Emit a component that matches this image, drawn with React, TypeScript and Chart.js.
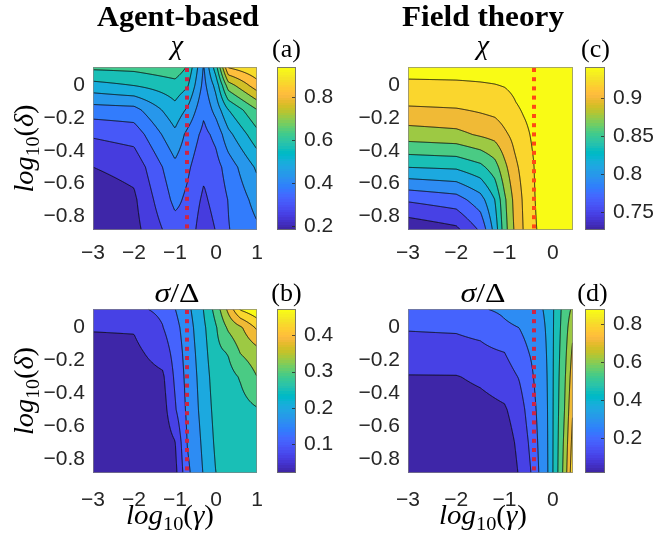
import React, { useEffect, useRef } from 'react';
import { Chart, registerables } from 'chart.js';

Chart.register(...registerables);

// ---------------- data ----------------
const Y_TICKS = [-0.8, -0.6, -0.4, -0.2, 0];
const Y_TICK_LABELS = ['−0.8', '−0.6', '−0.4', '−0.2', '0'];
const X_TICKS_AGENT = [-3, -2, -1, 0, 1];
const X_TICK_LABELS_AGENT = ['−3', '−2', '−1', '0', '1'];
const X_TICKS_FIELD = [-3, -2, -1, 0];
const X_TICK_LABELS_FIELD = ['−3', '−2', '−1', '0'];
const DELTA_MIN = -0.886;
const DELTA_MAX = 0.114;
const GAMMA_MIN = -3;
const GAMMA_MAX_AGENT = 1;
const GAMMA_MAX_FIELD = 0.42;
const CRIT_AGENT = -0.7;
const CRIT_FIELD = -0.38;

// (a) agent-based chi : rows = delta (bottom -> top), columns = gamma
const GAMMA_A = [-3, -2, -1, -0.7, -0.3, 0, 0.3, 1];
const DELTA_A = [-0.886, -0.7, -0.5, -0.3, -0.15, 0, 0.114];
const CHI_A = [
  [0.185, 0.225, 0.345, 0.35, 0.27, 0.312, 0.37, 0.425],
  [0.21, 0.235, 0.39, 0.36, 0.296, 0.335, 0.375, 0.46],
  [0.246, 0.266, 0.42, 0.385, 0.325, 0.35, 0.4, 0.51],
  [0.317, 0.335, 0.485, 0.42, 0.355, 0.39, 0.48, 0.605],
  [0.406, 0.413, 0.54, 0.49, 0.385, 0.46, 0.56, 0.685],
  [0.538, 0.562, 0.6, 0.57, 0.415, 0.52, 0.72, 0.85],
  [0.64, 0.645, 0.67, 0.62, 0.43, 0.6, 0.885, 0.935],
];
const LEVELS_A = [0.246, 0.309, 0.373, 0.436, 0.499, 0.562, 0.625, 0.688, 0.752, 0.815, 0.878];
const CLIM_A = [0.183, 0.941];
const CB_TICKS_A = [0.2, 0.4, 0.6, 0.8];
const CB_LABELS_A = ['0.2', '0.4', '0.6', '0.8'];

// (b) agent-based sigma/Delta
const GAMMA_B = [-3, -2, -1.3, -1, -0.7, -0.4, 0, 0.3, 0.6, 1];
const DELTA_B = [-0.886, -0.7, -0.5, -0.3, -0.15, 0, 0.114];
const SIG_B = [
  [0.02, 0.022, 0.033, 0.05, 0.145, 0.19, 0.247, 0.26, 0.265, 0.268],
  [0.025, 0.027, 0.038, 0.063, 0.158, 0.197, 0.255, 0.262, 0.268, 0.272],
  [0.032, 0.035, 0.045, 0.105, 0.165, 0.205, 0.262, 0.265, 0.275, 0.288],
  [0.042, 0.045, 0.058, 0.118, 0.17, 0.21, 0.27, 0.275, 0.296, 0.337],
  [0.052, 0.055, 0.085, 0.127, 0.175, 0.215, 0.28, 0.295, 0.34, 0.365],
  [0.068, 0.069, 0.109, 0.14, 0.18, 0.222, 0.288, 0.345, 0.375, 0.435],
  [0.072, 0.102, 0.12, 0.155, 0.19, 0.228, 0.31, 0.395, 0.48, 0.51],
];
const LEVELS_B = [0.0653, 0.1106, 0.1559, 0.2012, 0.2465, 0.2918, 0.3371, 0.3824, 0.4277, 0.473];
const CLIM_B = [0.02, 0.473];
const CB_TICKS_B = [0.1, 0.2, 0.3, 0.4];
const CB_LABELS_B = ['0.1', '0.2', '0.3', '0.4'];

// (c) field theory chi
const GAMMA_C = [-3, -2, -1.5, -1.2, -1, -0.8, -0.6, -0.39, -0.3, 0.42];
const DELTA_C = [-0.886, -0.7, -0.5, -0.3, -0.1, 0.114];
const CHI_C = [
  [0.73, 0.742, 0.772, 0.82, 0.867, 0.899, 0.921, 0.937, 0.943, 0.95],
  [0.772, 0.781, 0.803, 0.8335, 0.872, 0.903, 0.923, 0.939, 0.946, 0.95],
  [0.834, 0.837, 0.849, 0.867, 0.892, 0.914, 0.927, 0.9405, 0.95, 0.95],
  [0.888, 0.892, 0.901, 0.906, 0.916, 0.925, 0.935, 0.945, 0.95, 0.95],
  [0.924, 0.926, 0.929, 0.9316, 0.9345, 0.94, 0.946, 0.95, 0.95, 0.95],
  [0.95, 0.95, 0.95, 0.95, 0.95, 0.95, 0.95, 0.95, 0.95, 0.95],
];
const LEVELS_C = [0.7475, 0.769, 0.7905, 0.812, 0.8335, 0.855, 0.8765, 0.898, 0.9195, 0.941];
const CLIM_C = [0.726, 0.941];
const CB_TICKS_C = [0.75, 0.8, 0.85, 0.9];
const CB_LABELS_C = ['0.75', '0.8', '0.85', '0.9'];

// (d) field theory sigma/Delta
const GAMMA_D = [-3, -2, -1.5, -1, -0.7, -0.45, -0.3, -0.1, 0.1, 0.25, 0.42];
const DELTA_D = [-0.886, -0.7, -0.5, -0.3, -0.15, 0, 0.114];
const SIG_D = [
  [0.02, 0.025, 0.03, 0.04, 0.11, 0.191, 0.272, 0.362, 0.53, 0.66, 0.86],
  [0.035, 0.04, 0.048, 0.06, 0.125, 0.21, 0.283, 0.364, 0.525, 0.645, 0.83],
  [0.06, 0.065, 0.075, 0.095, 0.15, 0.235, 0.295, 0.366, 0.52, 0.625, 0.795],
  [0.1, 0.101, 0.12, 0.15, 0.195, 0.26, 0.31, 0.368, 0.515, 0.61, 0.76],
  [0.16, 0.162, 0.17, 0.191, 0.24, 0.285, 0.325, 0.37, 0.51, 0.595, 0.73],
  [0.196, 0.2, 0.215, 0.265, 0.277, 0.31, 0.34, 0.372, 0.505, 0.58, 0.69],
  [0.22, 0.225, 0.272, 0.29, 0.31, 0.34, 0.352, 0.375, 0.5, 0.57, 0.64],
];
const LEVELS_D = [0.105, 0.191, 0.277, 0.363, 0.449, 0.535, 0.621, 0.707, 0.793, 0.879];
const CLIM_D = [0.019, 0.879];
const CB_TICKS_D = [0.2, 0.4, 0.6, 0.8];
const CB_LABELS_D = ['0.2', '0.4', '0.6', '0.8'];

// ---------------- style ----------------
const SERIF = '"Liberation Serif", "Times New Roman", serif';
const SANS = '"Liberation Sans", Arial, Helvetica, sans-serif';
const TICK_COLOR = '#262626';

const PARULA: number[][] = [
  [0.2422, 0.1504, 0.6603], [0.2504, 0.165, 0.7076], [0.2578, 0.1818, 0.7511], [0.2647, 0.1978, 0.7952],
  [0.2706, 0.2147, 0.8364], [0.2751, 0.2342, 0.871], [0.2783, 0.2559, 0.8991], [0.2803, 0.2782, 0.9221],
  [0.2813, 0.3006, 0.9414], [0.281, 0.3228, 0.9579], [0.2795, 0.3447, 0.9717], [0.276, 0.3667, 0.9829],
  [0.2699, 0.3892, 0.9906], [0.2602, 0.4123, 0.9952], [0.244, 0.4358, 0.9988], [0.2206, 0.4603, 0.9973],
  [0.1963, 0.4847, 0.9892], [0.1834, 0.5074, 0.9798], [0.1786, 0.5289, 0.9682], [0.1764, 0.5499, 0.952],
  [0.1687, 0.5703, 0.9359], [0.154, 0.5902, 0.9218], [0.146, 0.6091, 0.9079], [0.138, 0.6276, 0.8973],
  [0.1248, 0.6459, 0.8883], [0.1113, 0.6635, 0.8763], [0.0952, 0.6798, 0.8598], [0.0689, 0.6948, 0.8394],
  [0.0297, 0.7082, 0.8163], [0.0036, 0.7203, 0.7917], [0.0067, 0.7312, 0.766], [0.0433, 0.7411, 0.7394],
  [0.0964, 0.75, 0.712], [0.1408, 0.7584, 0.6842], [0.1717, 0.767, 0.6554], [0.1938, 0.7758, 0.6251],
  [0.2161, 0.7843, 0.5923], [0.247, 0.7918, 0.5567], [0.2906, 0.7973, 0.5188], [0.3406, 0.8008, 0.4789],
  [0.3909, 0.8029, 0.4354], [0.4456, 0.8024, 0.3909], [0.5044, 0.7993, 0.348], [0.5616, 0.7942, 0.3045],
  [0.6174, 0.7876, 0.2612], [0.672, 0.7793, 0.2227], [0.7242, 0.7698, 0.191], [0.7738, 0.7598, 0.1646],
  [0.8203, 0.7498, 0.1535], [0.8634, 0.7406, 0.1596], [0.9035, 0.733, 0.1774], [0.9393, 0.7288, 0.21],
  [0.9728, 0.7298, 0.2394], [0.9956, 0.7434, 0.2371], [0.997, 0.7659, 0.2199], [0.9952, 0.7893, 0.2028],
  [0.9892, 0.8136, 0.1885], [0.9786, 0.8386, 0.1766], [0.9676, 0.8639, 0.1643], [0.961, 0.889, 0.1537],
  [0.9597, 0.9135, 0.1423], [0.9628, 0.9373, 0.1265], [0.9691, 0.9606, 0.1064], [0.9769, 0.9839, 0.0805],
];

function parula(t: number): number[] {
  const n = PARULA.length;
  let i = Math.floor(t * n);
  if (i < 0) i = 0;
  if (i > n - 1) i = n - 1;
  const c = PARULA[i];
  return [Math.round(c[0] * 255), Math.round(c[1] * 255), Math.round(c[2] * 255)];
}

type Seg = { t: string; it?: boolean; sub?: boolean };
const LABEL_DELTA: Seg[] = [{ t: 'log', it: true }, { t: '10', sub: true }, { t: '(' }, { t: 'δ', it: true }, { t: ')' }];
const LABEL_GAMMA: Seg[] = [{ t: 'log', it: true }, { t: '10', sub: true }, { t: '(' }, { t: 'γ', it: true }, { t: ')' }];
const TITLE_CHI: Seg[] = [{ t: 'χ', it: true }];
const TITLE_SIG: Seg[] = [{ t: 'σ', it: true }, { t: '/' }, { t: 'Δ' }];

function drawRich(ctx: CanvasRenderingContext2D, segs: Seg[], x: number, y: number, size: number,
  opts: { tw?: number; rot?: boolean } = {}) {
  const font = (s: Seg) => `${s.it ? 'italic ' : ''}${s.sub ? Math.round(size * 0.7) : size}px ${SERIF}`;
  const widths = segs.map((s) => { ctx.font = font(s); return ctx.measureText(s.t).width; });
  const total = widths.reduce((a, b) => a + b, 0);
  const sx = opts.tw ? opts.tw / total : 1;
  ctx.save();
  ctx.translate(x, y);
  if (opts.rot) ctx.rotate(-Math.PI / 2);
  ctx.scale(sx, 1);
  ctx.fillStyle = '#000';
  ctx.textAlign = 'left';
  ctx.textBaseline = 'alphabetic';
  let cx = -total / 2;
  segs.forEach((s, i) => {
    ctx.font = font(s);
    ctx.fillText(s.t, cx, s.sub ? size * 0.24 : 0);
    cx += widths[i];
  });
  ctx.restore();
}

function bilinear(xs: number[], ys: number[], Z: number[][], x: number, y: number) {
  let i = 0;
  while (i < xs.length - 2 && x > xs[i + 1]) i++;
  let j = 0;
  while (j < ys.length - 2 && y > ys[j + 1]) j++;
  let tx = (x - xs[i]) / (xs[i + 1] - xs[i]);
  let ty = (y - ys[j]) / (ys[j + 1] - ys[j]);
  tx = Math.max(0, Math.min(1, tx));
  ty = Math.max(0, Math.min(1, ty));
  const z00 = Z[j][i], z10 = Z[j][i + 1], z01 = Z[j + 1][i], z11 = Z[j + 1][i + 1];
  return z00 * (1 - tx) * (1 - ty) + z10 * tx * (1 - ty) + z01 * (1 - tx) * ty + z11 * tx * ty;
}

type Panel = {
  tag: string; left: number; top: number; w: number; h: number;
  padTop: number; yW: number; xH: number; cbW: number; cbOff: number; cbBar: number; cbPad: number; xPad: number;
  gx: number[]; gy: number[]; z: number[][]; levels: number[]; clim: number[];
  cbTicks: number[]; cbLabels: string[]; xTicks: number[]; xLabels: string[]; xMax: number;
  crit: number; critColor: string;
  heading?: string; headingX?: number; title: Seg[]; titleX: number; titleY: number; titleW?: number;
  tagX: number; tagY: number; ylabel?: boolean; ylabelY?: number; xlabel?: boolean; xlabelX?: number;
};

const PANELS: Panel[] = [
  {
    tag: '(a)', left: 0, top: 0, w: 345, h: 270, padTop: 67, yW: 93, xH: 40, cbW: 88, cbOff: 20, cbBar: 19, cbPad: 47, xPad: 11,
    gx: GAMMA_A, gy: DELTA_A, z: CHI_A, levels: LEVELS_A, clim: CLIM_A, cbTicks: CB_TICKS_A, cbLabels: CB_LABELS_A,
    xTicks: X_TICKS_AGENT, xLabels: X_TICK_LABELS_AGENT, xMax: GAMMA_MAX_AGENT, crit: CRIT_AGENT, critColor: '#CC2545',
    heading: 'Agent-based', headingX: 178, title: TITLE_CHI, titleX: 177, titleY: 54, tagX: 286.5, tagY: 57,
    ylabel: true, ylabelY: 148.5,
  },
  {
    tag: '(b)', left: 0, top: 270, w: 345, h: 269, padTop: 39, yW: 93, xH: 66, cbW: 88, cbOff: 20, cbBar: 19, cbPad: 47, xPad: 15,
    gx: GAMMA_B, gy: DELTA_B, z: SIG_B, levels: LEVELS_B, clim: CLIM_B, cbTicks: CB_TICKS_B, cbLabels: CB_LABELS_B,
    xTicks: X_TICKS_AGENT, xLabels: X_TICK_LABELS_AGENT, xMax: GAMMA_MAX_AGENT, crit: CRIT_AGENT, critColor: '#CC2545',
    title: TITLE_SIG, titleX: 177, titleY: 32, titleW: 45, tagX: 286.5, tagY: 31,
    ylabel: true, ylabelY: 121, xlabel: true, xlabelX: 170,
  },
  {
    tag: '(c)', left: 328, top: 0, w: 328, h: 270, padTop: 67, yW: 80, xH: 40, cbW: 83, cbOff: 12, cbBar: 20, cbPad: 40, xPad: 11,
    gx: GAMMA_C, gy: DELTA_C, z: CHI_C, levels: LEVELS_C, clim: CLIM_C, cbTicks: CB_TICKS_C, cbLabels: CB_LABELS_C,
    xTicks: X_TICKS_FIELD, xLabels: X_TICK_LABELS_FIELD, xMax: GAMMA_MAX_FIELD, crit: CRIT_FIELD, critColor: '#FF4A14',
    heading: 'Field theory', headingX: 155, title: TITLE_CHI, titleX: 155, titleY: 54, tagX: 267.5, tagY: 57,
  },
  {
    tag: '(d)', left: 328, top: 270, w: 328, h: 269, padTop: 39, yW: 80, xH: 66, cbW: 83, cbOff: 12, cbBar: 20, cbPad: 40, xPad: 15,
    gx: GAMMA_D, gy: DELTA_D, z: SIG_D, levels: LEVELS_D, clim: CLIM_D, cbTicks: CB_TICKS_D, cbLabels: CB_LABELS_D,
    xTicks: X_TICKS_FIELD, xLabels: X_TICK_LABELS_FIELD, xMax: GAMMA_MAX_FIELD, crit: CRIT_FIELD, critColor: '#CC2545',
    title: TITLE_SIG, titleX: 155, titleY: 32, titleW: 45, tagX: 264.5, tagY: 31,
    xlabel: true, xlabelX: 155,
  },
];

function drawField(chart: any, p: Panel) {
  const { ctx, chartArea: ca, scales } = chart;
  const L = Math.round(ca.left), T = Math.round(ca.top), R = Math.round(ca.right), B = Math.round(ca.bottom);
  const w = R - L, h = B - T;
  const xv: number[] = [];
  const yv: number[] = [];
  for (let i = 0; i < w; i++) xv.push(scales.x.getValueForPixel(L + i + 0.5));
  for (let j = 0; j < h; j++) yv.push(scales.y.getValueForPixel(T + j + 0.5));
  const F = new Float64Array(w * h);
  for (let j = 0; j < h; j++) for (let i = 0; i < w; i++) F[j * w + i] = bilinear(p.gx, p.gy, p.z, xv[i], yv[j]);
  const [cmin, cmax] = p.clim;
  const cols = [cmin, ...p.levels].map((lv) => parula((lv - cmin) / (cmax - cmin)));
  const img = ctx.createImageData(w, h);
  for (let k = 0; k < w * h; k++) {
    const v = F[k];
    let r = 0;
    while (r < p.levels.length && v >= p.levels[r]) r++;
    const c = cols[r];
    img.data[k * 4] = c[0];
    img.data[k * 4 + 1] = c[1];
    img.data[k * 4 + 2] = c[2];
    img.data[k * 4 + 3] = 255;
  }
  ctx.putImageData(img, L, T);

  ctx.save();
  ctx.beginPath();
  for (const lv of p.levels) {
    for (let j = 0; j < h - 1; j++) {
      for (let i = 0; i < w - 1; i++) {
        const a = F[j * w + i], b = F[j * w + i + 1], c = F[(j + 1) * w + i + 1], d = F[(j + 1) * w + i];
        let idx = 0;
        if (a >= lv) idx |= 8;
        if (b >= lv) idx |= 4;
        if (c >= lv) idx |= 2;
        if (d >= lv) idx |= 1;
        if (idx === 0 || idx === 15) continue;
        const x0 = L + i + 0.5, y0 = T + j + 0.5;
        const top = () => [x0 + (lv - a) / (b - a), y0];
        const right = () => [x0 + 1, y0 + (lv - b) / (c - b)];
        const bottom = () => [x0 + (lv - d) / (c - d), y0 + 1];
        const left = () => [x0, y0 + (lv - a) / (d - a)];
        const seg = (p1: number[], p2: number[]) => { ctx.moveTo(p1[0], p1[1]); ctx.lineTo(p2[0], p2[1]); };
        switch (idx) {
          case 1: case 14: seg(left(), bottom()); break;
          case 2: case 13: seg(bottom(), right()); break;
          case 3: case 12: seg(left(), right()); break;
          case 4: case 11: seg(top(), right()); break;
          case 6: case 9: seg(top(), bottom()); break;
          case 7: case 8: seg(top(), left()); break;
          case 5: seg(top(), right()); seg(left(), bottom()); break;
          case 10: seg(top(), left()); seg(bottom(), right()); break;
        }
      }
    }
  }
  ctx.lineWidth = 1;
  ctx.strokeStyle = 'rgba(10,10,10,0.9)';
  ctx.stroke();
  ctx.strokeStyle = 'rgba(130,130,130,0.7)';
  ctx.strokeRect(L + 0.5, T + 0.5, w - 1, h - 1);
  ctx.restore();
}

function drawCritical(chart: any, p: Panel) {
  const { ctx, chartArea: ca, scales } = chart;
  const meta = chart.getDatasetMeta(0);
  const pts = meta.data;
  if (!pts || pts.length < 2) return;
  const px = Math.round(scales.x.getPixelForValue(p.crit));
  const yTop = scales.y.getPixelForValue(DELTA_MAX);
  const yBot = scales.y.getPixelForValue(DELTA_MIN);
  ctx.save();
  ctx.beginPath();
  ctx.rect(ca.left, ca.top, ca.right - ca.left, ca.bottom - ca.top);
  ctx.clip();
  ctx.fillStyle = p.critColor;
  for (let y = yTop + 1; y < yBot; y += 9.2) {
    ctx.fillRect(px - 2, y, 4, Math.min(4, yBot - y));
  }
  ctx.restore();
}

function drawDecor(chart: any, p: Panel) {
  const { ctx, chartArea: ca, scales } = chart;
  const T = Math.round(ca.top), B = Math.round(ca.bottom), R = Math.round(ca.right);
  const cb = scales.cb;
  const [cmin, cmax] = p.clim;
  const bx = R + p.cbOff;
  ctx.save();
  for (let py = T; py < B; py++) {
    const v = cb.getValueForPixel(py + 0.5);
    const c = parula((v - cmin) / (cmax - cmin));
    ctx.fillStyle = `rgb(${c[0]},${c[1]},${c[2]})`;
    ctx.fillRect(bx, py, p.cbBar, 1);
  }
  ctx.strokeStyle = 'rgba(110,110,110,0.9)';
  ctx.lineWidth = 1;
  ctx.strokeRect(bx + 0.5, T + 0.5, p.cbBar - 1, B - T - 1);
  ctx.beginPath();
  for (const v of p.cbTicks) {
    const py = Math.round(cb.getPixelForValue(v)) + 0.5;
    ctx.moveTo(bx + p.cbBar - 1, py);
    ctx.lineTo(bx + p.cbBar - 4, py);
  }
  ctx.strokeStyle = 'rgba(40,40,40,0.8)';
  ctx.stroke();

  if (p.heading) {
    ctx.font = `bold 29px ${SERIF}`;
    const mw = ctx.measureText(p.heading).width;
    ctx.save();
    ctx.translate(p.headingX!, 26);
    ctx.scale(162 / mw, 1);
    ctx.fillStyle = '#000';
    ctx.textAlign = 'center';
    ctx.textBaseline = 'alphabetic';
    ctx.fillText(p.heading, 0, 0);
    ctx.restore();
  }
  drawRich(ctx, p.title, p.titleX, p.titleY, 28, { tw: p.titleW });
  drawRich(ctx, [{ t: p.tag }], p.tagX, p.tagY, 26);
  if (p.ylabel) drawRich(ctx, LABEL_DELTA, 33, p.ylabelY!, 27, { rot: true, tw: 88 });
  if (p.xlabel) drawRich(ctx, LABEL_GAMMA, p.xlabelX!, 254, 27, { tw: 88 });
  ctx.restore();
}

function PanelChart({ p }: { p: Panel }) {
  const ref = useRef<HTMLCanvasElement>(null);
  useEffect(() => {
    const canvas = ref.current!;
    const plugin = {
      id: 'contour',
      beforeDatasetsDraw(chart: any) { drawField(chart, p); },
      afterDatasetsDraw(chart: any) { drawCritical(chart, p); },
      afterDraw(chart: any) { drawDecor(chart, p); },
    };
    const tickFont = { family: SANS, size: 21 };
    const chart = new Chart(canvas, {
      type: 'scatter',
      data: {
        datasets: [{
          data: [{ x: p.crit, y: DELTA_MIN }, { x: p.crit, y: DELTA_MAX }],
          showLine: false,
          pointRadius: 0,
          borderWidth: 0,
        }],
      },
      options: {
        animation: false,
        responsive: false,
        devicePixelRatio: 1,
        events: [],
        layout: { padding: { top: p.padTop, left: 0, right: 0, bottom: 0 } },
        plugins: { legend: { display: false }, tooltip: { enabled: false }, title: { display: false } },
        scales: {
          x: {
            type: 'linear', position: 'bottom', min: GAMMA_MIN, max: p.xMax,
            afterBuildTicks: (s: any) => { s.ticks = p.xTicks.map((v) => ({ value: v })); },
            afterFit: (s: any) => { s.height = p.xH; s.paddingLeft = 0; s.paddingRight = 0; },
            ticks: {
              font: tickFont, color: TICK_COLOR, padding: p.xPad, maxRotation: 0, minRotation: 0, autoSkip: false,
              callback: (v: any) => { const k = p.xTicks.indexOf(Number(v)); return k >= 0 ? p.xLabels[k] : ''; },
            },
            grid: { display: false, drawTicks: false },
            border: { display: false },
          },
          y: {
            type: 'linear', position: 'left', min: DELTA_MIN, max: DELTA_MAX,
            afterBuildTicks: (s: any) => { s.ticks = Y_TICKS.map((v) => ({ value: v })); },
            afterFit: (s: any) => { s.width = p.yW; s.paddingTop = 0; s.paddingBottom = 0; },
            ticks: {
              font: tickFont, color: TICK_COLOR, padding: 8, autoSkip: false,
              callback: (v: any) => { const k = Y_TICKS.indexOf(Number(v)); return k >= 0 ? Y_TICK_LABELS[k] : ''; },
            },
            grid: { display: false, drawTicks: false },
            border: { display: false },
          },
          cb: {
            axis: 'y', type: 'linear', position: 'right', min: p.clim[0], max: p.clim[1],
            afterBuildTicks: (s: any) => { s.ticks = p.cbTicks.map((v) => ({ value: v })); },
            afterFit: (s: any) => { s.width = p.cbW; s.paddingTop = 0; s.paddingBottom = 0; },
            ticks: {
              font: tickFont, color: TICK_COLOR, padding: p.cbPad, autoSkip: false,
              callback: (v: any) => { const k = p.cbTicks.indexOf(Number(v)); return k >= 0 ? p.cbLabels[k] : ''; },
            },
            grid: { display: false, drawTicks: false },
            border: { display: false },
          },
        },
      } as any,
      plugins: [plugin],
    });
    return () => chart.destroy();
  }, []);
  return (
    <canvas
      ref={ref}
      width={p.w}
      height={p.h}
      style={{ position: 'absolute', left: p.left, top: p.top, width: p.w, height: p.h }}
    />
  );
}

export default function App() {
  return (
    <div style={{ position: 'absolute', left: 0, top: 0, width: 656, height: 539, background: '#fff' }}>
      {PANELS.map((p) => <PanelChart key={p.tag} p={p} />)}
    </div>
  );
}
